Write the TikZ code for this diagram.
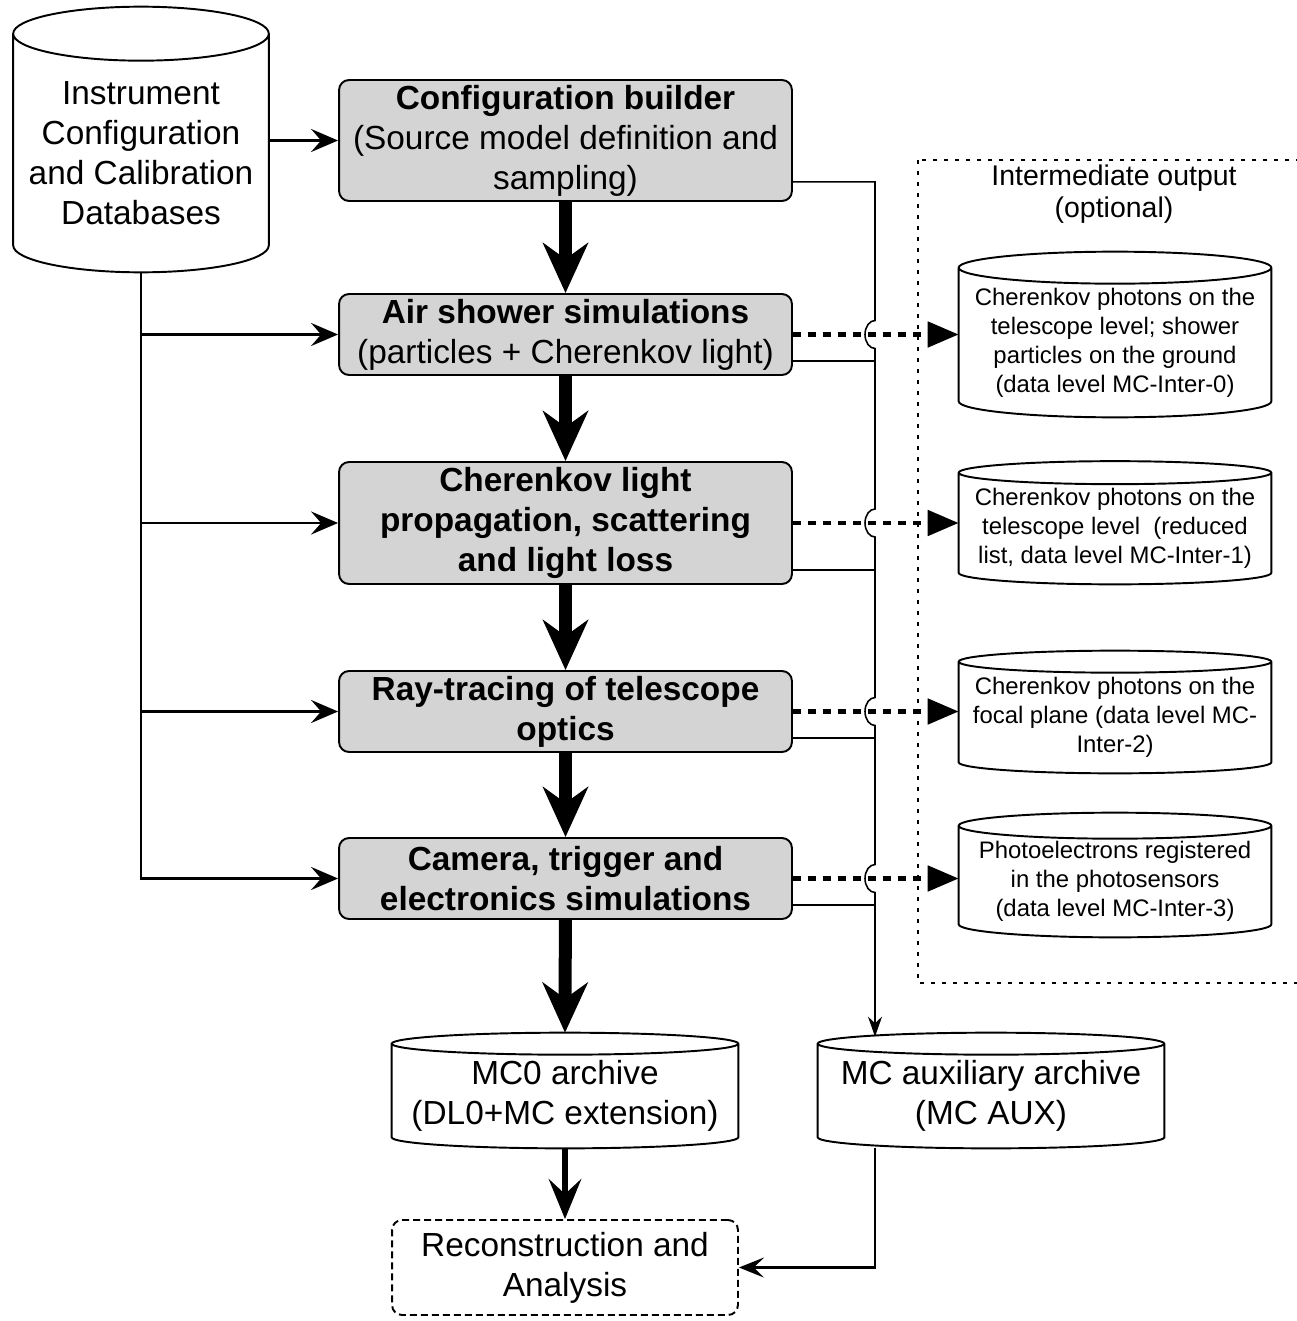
\documentclass[tikz,border=0pt]{standalone}
\usepackage{fontspec}
\setmainfont{Liberation Sans}
\usetikzlibrary{arrows.meta,calc}

\definecolor{boxgray}{gray}{0.83}

\tikzset{
  bigtext/.style={font=\fontsize{19}{22.8}\selectfont},
  smalltext/.style={font=\fontsize{13.6}{16.5}\selectfont},
  stage/.style={draw, line width=1.1pt, fill=boxgray, rounded corners=0.2cm, minimum width=9.06cm, inner sep=0pt, align=center, bigtext},
  dbase/.style={inner sep=0pt, align=center},
  dbline/.style={line width=1.1pt},
  flow/.style={line width=7.4pt, -{Stealth[length=1.0cm,width=0.9cm,inset=0.32cm]}},
  link/.style={line width=1.6pt, -{Stealth[length=0.54cm,width=0.46cm,inset=0.2cm]}},
  feed/.style={line width=0.9pt},
  spill/.style={line width=2.8pt, dash pattern=on 0.16cm off 0.14cm, -{Triangle[length=0.62cm,width=0.5cm]}},
}

\begin{document}
\begin{tikzpicture}[x=0.02cm, y=-0.02cm]
    \useasboundingbox (0,0) rectangle (1297,1321);

    % INPUT DATABASE
    \node[dbase, bigtext, minimum width=5.1cm, minimum height=4.76cm] (instr) at (141,153)
        {Instrument\\Configuration\\and Calibration\\Databases};

    % SIMULATION CHAIN
    \node[stage, minimum height=2.42cm] (cfg) at (565.5,140.5)
        {\textbf{Configuration builder}\\(Source model definition and\\sampling)};
    \node[stage, minimum height=1.62cm] (air) at (565.5,334.5)
        {\textbf{Air shower simulations}\\(particles + Cherenkov light)};
    \node[stage, minimum height=2.44cm] (cher) at (565.5,523)
        {\textbf{Cherenkov light}\\\textbf{propagation, scattering}\\\textbf{and light loss}};
    \node[stage, minimum height=1.62cm] (ray) at (565.5,711.5)
        {\textbf{Ray-tracing of telescope}\\\textbf{optics}};
    \node[stage, minimum height=1.62cm] (cam) at (565.5,878.5)
        {\textbf{Camera, trigger and}\\\textbf{electronics simulations}};

    % INTERMEDIATE OUTPUT (OPTIONAL)
    \draw[line width=1.4pt, dash pattern=on 0.08cm off 0.14cm] (918,160) rectangle (1320,983);
    \node[align=center, font=\fontsize{16.2}{18.4}\selectfont] (inter) at (1114,194)
        {Intermediate output\\(optional)};
    \node[dbase, smalltext, minimum width=6.24cm, minimum height=2.98cm] (inter0) at (1115,342.5)
        {Cherenkov photons on the\\telescope level; shower\\particles on the ground\\(data level MC-Inter-0)};
    \node[dbase, smalltext, minimum width=6.24cm, minimum height=2.22cm] (inter1) at (1115,528.5)
        {Cherenkov photons on the\\telescope level\ \ (reduced\\list, data level MC-Inter-1)};
    \node[dbase, smalltext, minimum width=6.24cm, minimum height=2.22cm] (inter2) at (1115,717.5)
        {Cherenkov photons on the\\focal plane (data level MC-\\Inter-2)};
    \node[dbase, smalltext, minimum width=6.24cm, minimum height=2.22cm] (inter3) at (1115,881.5)
        {Photoelectrons registered\\in the photosensors\\(data level MC-Inter-3)};

    % ARCHIVES AND ANALYSIS
    \node[dbase, bigtext, minimum width=6.92cm, minimum height=2.08cm] (mczero) at (565,1096)
        {MC0 archive\\(DL0+MC extension)};
    \node[dbase, bigtext, minimum width=6.92cm, minimum height=2.08cm] (mcaux) at (991,1096)
        {MC auxiliary archive\\(MC AUX)};
    \node[draw, line width=1.1pt, dash pattern=on 0.14cm off 0.08cm, rounded corners=0.2cm,
          minimum width=6.92cm, minimum height=1.9cm, inner sep=0pt, align=center, bigtext] (recon) at (565,1267.5)
        {Reconstruction and\\Analysis};

    % CYLINDER OUTLINES
    \foreach \db/\rad in {instr/27, inter0/16, inter1/11.5, inter2/11, inter3/13, mczero/11, mcaux/11} {
        \draw[dbline] let \p1=(\db.north west), \p2=(\db.south east) in
            (\p1) -- ([yshift=\rad*0.02cm]\db.south west)
            arc[start angle=180, end angle=360, x radius={(\x2-\x1)/2}, y radius=\rad*0.02cm]
            -- (\db.north east)
            arc[start angle=0, end angle=360, x radius={(\x2-\x1)/2}, y radius=\rad*0.02cm];
    }

    % MAIN FLOW
    \draw[flow] (cfg) -- (air);
    \draw[flow] (air) -- (cher);
    \draw[flow] (cher) -- (ray);
    \draw[flow] (ray) -- (cam);
    \draw[flow] (cam) -- ([yshift=0.22cm]mczero.north);
    \draw[line width=3pt, -{Stealth[length=0.8cm,width=0.65cm,inset=0.3cm]}] (mczero) -- (recon);

    % CONFIGURATION INPUT
    \draw[link] (instr.east |- cfg.west) -- (cfg.west);
    \draw[link] (instr.south) |- (cam.west);
    \foreach \b in {air, cher, ray}
        \draw[link] (instr.south |- \b.west) -- (\b.west);

    % AUXILIARY BUS
    \coordinate (bus) at (875,0);
    \draw[feed, -{Stealth[length=0.4cm,width=0.28cm]}] ([yshift=0.4cm]cfg.south east) -| ($(bus |- air.east)+(0,-14)$)
        arc[start angle=90, end angle=270, x radius=0.2cm, y radius=0.28cm]
        -- ($(bus |- cher.east)+(0,-14)$)
        arc[start angle=90, end angle=270, x radius=0.2cm, y radius=0.28cm]
        -- ($(bus |- ray.east)+(0,-14)$)
        arc[start angle=90, end angle=270, x radius=0.2cm, y radius=0.28cm]
        -- ($(bus |- cam.east)+(0,-14)$)
        arc[start angle=90, end angle=270, x radius=0.2cm, y radius=0.28cm]
        -- ($(bus |- mcaux.north)+(0,-7)$);
    \foreach \b in {air, cher, ray, cam}
        \draw[feed] ([yshift=0.3cm]\b.south east) coordinate (tap) -- (tap -| bus);
    \draw[line width=1.6pt, -{Stealth[length=0.5cm,width=0.4cm,inset=0.2cm]}] (mcaux.south -| bus) |- (recon.east);

    % OPTIONAL OUTPUT
    \draw[spill] (air.east) -- (air.east -| inter0.west);
    \draw[spill] (cher.east) -- (cher.east -| inter1.west);
    \draw[spill] (ray.east) -- (ray.east -| inter2.west);
    \draw[spill] (cam.east) -- (cam.east -| inter3.west);

\end{tikzpicture}
\end{document}
